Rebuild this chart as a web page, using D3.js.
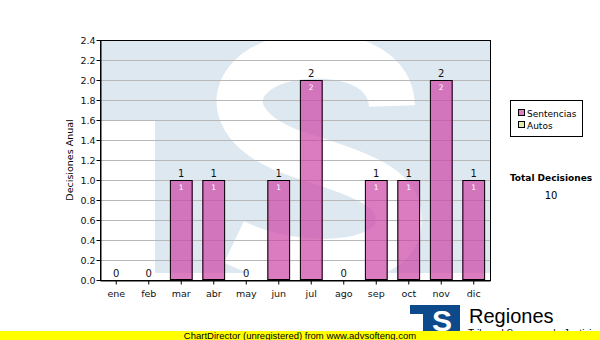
<!DOCTYPE html>
<html><head><meta charset="utf-8">
<script src="https://cdn.jsdelivr.net/npm/d3@7"></script>
<style>html,body{margin:0;padding:0;background:#fff}svg{display:block}</style>
</head><body>
<script>
const months = ["ene","feb","mar","abr","may","jun","jul","ago","sep","oct","nov","dic"];
const sentencias = [0,0,1,1,0,1,2,0,1,1,2,1];
const autos = [0,0,0,0,0,0,0,0,0,0,0,0];
const yTicks = [0,0.2,0.4,0.6,0.8,1.0,1.2,1.4,1.6,1.8,2.0,2.2,2.4];
const seriesNames = ["Sentencias","Autos"];
const seriesColors = ["#cd45a5","#ddeeaa"];
const legendColors = ["#de7ec0","#ddeeaa"];

const W = 600, H = 340;
const m = {l:100, r:110, t:40, b:60};
const svg = d3.select("body").append("svg").attr("width",W).attr("height",H);
const font = "DejaVu Sans, Verdana, sans-serif";

const x = d3.scaleBand().domain(months).range([m.l, W-m.r]).paddingInner(0.3).paddingOuter(0.15);
const y = d3.scaleLinear().domain([0,2.4]).range([H-m.b, m.t]);
const totals = months.map((d,i)=>sentencias[i]+autos[i]);

// watermark (S cut out)
const x0 = m.l+1, x1 = W-m.r, yt = m.t+1, yb = H-m.b-7;
const defs = svg.append("defs");
const mask = defs.append("mask").attr("id","wmmask").attr("maskUnits","userSpaceOnUse")
  .attr("x",0).attr("y",0).attr("width",W).attr("height",H);
mask.append("rect").attr("x",0).attr("y",0).attr("width",W).attr("height",H).attr("fill","#fff");
mask.append("path")
  .attr("d","M392,106 C390,50 300,46 262,68 C222,93 236,135 300,155 C372,178 404,190 398,228 C390,266 300,274 234,242")
  .attr("fill","none").attr("stroke","#000").attr("stroke-width",46);
svg.append("path")
  .attr("d",`M${x0},${yt}H${x1}V${yb}H155V120H${x0}Z`)
  .attr("fill","#dee8f1").attr("mask","url(#wmmask)");

// grid
svg.append("g").selectAll("line").data(yTicks.slice(1)).join("line")
  .attr("x1",m.l).attr("x2",W-m.r).attr("y1",d=>y(d)).attr("y2",d=>y(d))
  .attr("stroke","#b8b8b8").attr("stroke-width",1).attr("shape-rendering","crispEdges");

// bars
const stack = d3.stack().keys([0,1]).value((d,k)=> k===0 ? sentencias[d] : autos[d])(d3.range(months.length));
stack.forEach((s,k)=>{
  svg.append("g").selectAll("rect").data(s).join("rect")
    .attr("x",(d,i)=>x(months[i])).attr("width",x.bandwidth())
    .attr("y",d=>y(d[1])).attr("height",d=>y(d[0])-y(d[1]))
    .attr("fill",seriesColors[k]).attr("fill-opacity",0.7).attr("shape-rendering","crispEdges");
});

// bar outlines
svg.append("g").selectAll("rect").data(months.filter((d,i)=>totals[i]>0)).join("rect")
  .attr("x",d=>x(d)+0.5).attr("width",x.bandwidth()-1)
  .attr("y",d=>y(totals[months.indexOf(d)])+0.5)
  .attr("height",d=>y(0)-y(totals[months.indexOf(d)])-1)
  .attr("fill","none").attr("stroke","#000").attr("stroke-width",1);

// frame
svg.append("rect").attr("x",m.l+0.5).attr("y",m.t+0.5).attr("width",W-m.r-m.l).attr("height",H-m.b-m.t)
  .attr("fill","none").attr("stroke","#000").attr("stroke-width",1);

// axes
const yAxis = d3.axisLeft(y).tickValues(yTicks).tickFormat(d3.format(".1f")).tickSize(4).tickSizeOuter(0);
const gy = svg.append("g").attr("transform",`translate(${m.l+0.5},0)`).call(yAxis);
const xAxis = d3.axisBottom(x).tickSize(4).tickSizeOuter(0).tickPadding(6);
const gx = svg.append("g").attr("transform",`translate(0,${H-m.b+0.5})`).call(xAxis);
[gy,gx].forEach(g=>{
  g.select(".domain").attr("stroke","#000");
  g.selectAll(".tick line").attr("stroke","#000");
  g.selectAll("text").attr("font-family",font).attr("font-size",9.5).attr("fill","#111");
});
gy.selectAll("text").attr("x",-5);

// y title
svg.append("text").attr("transform",`translate(73,${(m.t+H-m.b)/2}) rotate(-90)`)
  .attr("text-anchor","middle").attr("font-family",font).attr("font-size",9.5).attr("fill","#000")
  .text("Decisiones Anual");

// total labels
svg.append("g").selectAll("text").data(months).join("text")
  .attr("x",d=>x(d)+x.bandwidth()/2).attr("y",(d,i)=>y(totals[i])-3)
  .attr("text-anchor","middle").attr("font-family",font).attr("font-size",10).attr("fill","#111")
  .text((d,i)=>totals[i]);
// inside labels
svg.append("g").selectAll("text").data(months.filter((d,i)=>sentencias[i]>0)).join("text")
  .attr("x",d=>x(d)+x.bandwidth()/2).attr("y",d=>y(sentencias[months.indexOf(d)])+10)
  .attr("text-anchor","middle").attr("font-family",font).attr("font-size",7.5).attr("fill","#fff")
  .text(d=>sentencias[months.indexOf(d)]);

// legend
const lg = svg.append("g");
lg.append("rect").attr("x",510.5).attr("y",100.5).attr("width",72).attr("height",36)
  .attr("fill","#fff").attr("stroke","#000");
seriesNames.forEach((n,i)=>{
  lg.append("rect").attr("x",518.5).attr("y",109.5+i*12).attr("width",6).attr("height",6)
    .attr("fill",legendColors[i]).attr("stroke","#000");
  lg.append("text").attr("x",527).attr("y",117+i*12).attr("font-family",font).attr("font-size",9)
    .attr("fill","#000").text(n);
});
svg.append("text").attr("x",551).attr("y",181).attr("text-anchor","middle").attr("font-family",font)
  .attr("font-size",9).attr("font-weight","bold").attr("fill","#000").text("Total Decisiones");
svg.append("text").attr("x",551).attr("y",199).attr("text-anchor","middle").attr("font-family",font)
  .attr("font-size",10).attr("fill","#000").text(d3.sum(totals));

// logo
const logo = svg.append("g");
logo.append("path").attr("d","M410,305H460V333H410Z").attr("fill","#0d4a8c");
logo.append("path").attr("d","M410,314H423V333H410Z").attr("fill","#fff");
logo.append("text").attr("x",442).attr("y",331).attr("text-anchor","middle")
  .attr("font-family","Liberation Sans, Arial, sans-serif").attr("font-weight","bold").attr("font-size",30)
  .attr("fill","#fff").text("S");
svg.append("text").attr("x",469).attr("y",323).attr("font-family","Liberation Sans, Arial, sans-serif")
  .attr("font-size",20).attr("fill","#000").text("Regiones");
svg.append("text").attr("x",468).attr("y",337).attr("font-family","Liberation Sans, Arial, sans-serif")
  .attr("font-size",10).attr("fill","#000").text("Tribunal Supremo de Justicia");

// bottom banner
svg.append("rect").attr("x",0).attr("y",331).attr("width",W).attr("height",9).attr("fill","#ffff00");
svg.append("text").attr("x",300).attr("y",339).attr("text-anchor","middle")
  .attr("font-family","Liberation Sans, Arial, sans-serif").attr("font-size",9.5).attr("fill","#000")
  .text("ChartDirector (unregistered) from www.advsofteng.com");
</script>
</body></html>
